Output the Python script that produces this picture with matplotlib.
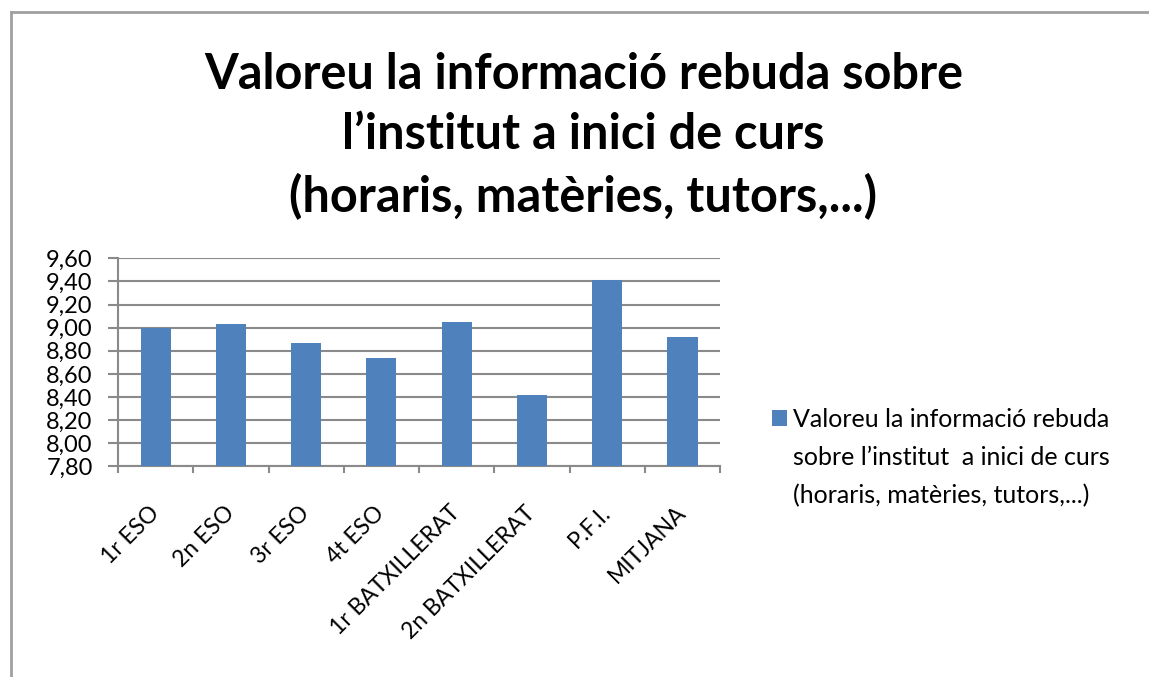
import matplotlib
matplotlib.use("Agg")
import matplotlib.pyplot as plt
from matplotlib.lines import Line2D
from matplotlib.patches import Patch
from matplotlib.ticker import FuncFormatter, FixedLocator

# Data
categories = ['1r ESO', '2n ESO', '3r ESO', '4t ESO', '1r BATXILLERAT',
              '2n BATXILLERAT', 'P.F.I.', 'MITJANA']
values = [9.00, 9.03, 8.87, 8.74, 9.05, 8.42, 9.41, 8.92]
yticks = [7.80, 8.00, 8.20, 8.40, 8.60, 8.80, 9.00, 9.20, 9.40, 9.60]

title = ("Valoreu la informació rebuda sobre\n"
         "l\u2019institut a inici de curs\n"
         "(horaris, matèries, tutors,...)")
legend_lines = ["Valoreu la informació rebuda",
                "sobre l\u2019institut  a inici de curs",
                "(horaris, matèries, tutors,...)"]

BLUE = '#4f81bd'
GRID = '#8a8a8a'
FONT = ['Lato', 'DejaVu Sans']

plt.rcParams['font.family'] = FONT

fig = plt.figure(figsize=(11.49, 6.77), dpi=100)
ax = fig.add_axes([0.1027, 0.311, 0.524, 0.3075])

x = list(range(len(categories)))
bars = ax.bar(x, values, width=0.4, color=BLUE, zorder=3)

ax.set_xlim(-0.5, len(categories) - 0.5)
ax.set_ylim(7.80, 9.60)
ax.set_yticks(yticks)
ax.yaxis.set_major_formatter(FuncFormatter(lambda v, p: f'{v:.2f}'.replace('.', ',')))
ax.tick_params(axis='y', length=7.2, width=1.5, color=GRID, labelsize=17,
               pad=11)
ax.grid(axis='y', color=GRID, lw=1.5, zorder=0)

# category labels at centers, ticks at boundaries
ax.set_xticks(x)
ax.set_xticklabels(categories, rotation=45, ha='right', va='center',
                   rotation_mode='anchor', fontsize=16.5)
ax.tick_params(axis='x', length=0, pad=31)
ax.xaxis.set_minor_locator(FixedLocator([i - 0.5 for i in range(len(categories) + 1)]))
ax.tick_params(axis='x', which='minor', length=5, width=1.5, color=GRID)

for s in ['top', 'right']:
    ax.spines[s].set_visible(False)
for s in ['left', 'bottom']:
    ax.spines[s].set_color(GRID)
    ax.spines[s].set_linewidth(1.5)

fig.text(0.5078, 0.923, title, ha='center', va='top', fontsize=35,
         fontweight='bold', linespacing=1.4)

# legend: swatch on the first line of the wrapped series name
blank = Patch(facecolor='none', edgecolor='none')
leg = fig.legend([bars, blank, blank], legend_lines, loc='upper left',
                 bbox_to_anchor=(0.672, 0.397), frameon=False, fontsize=18,
                 handlelength=0.6, handleheight=0.6, handletextpad=0.25,
                 labelspacing=0.6, borderpad=0, borderaxespad=0)

# chart frame (left and top edges visible)
fig.add_artist(Line2D([0.0096, 0.0096], [0.0, 0.982], color='#a0a0a0', lw=2))
fig.add_artist(Line2D([0.0096, 1.0], [0.982, 0.982], color='#a0a0a0', lw=2))

fig.savefig('out.png', dpi=100)
